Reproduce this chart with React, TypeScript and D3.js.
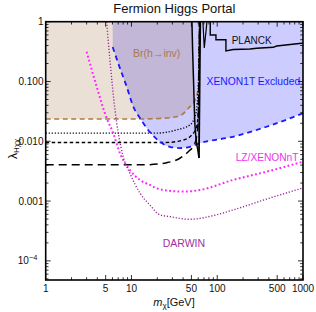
import React from "react";
import * as d3 from "d3";

// ---------- data (m in GeV, lambda) ----------
const xTickValues = [1, 5, 10, 50, 100, 500, 1000];
const xTickLabels = ["1", "5", "10", "50", "100", "500", "1000"];
const yTickValues = [1, 0.1, 0.01, 0.001, 0.0001];
const yTickLabels = ["1", "0.100", "0.010", "0.001", "10^-4"];

// Br(h->inv) current bound (brown dashed)
const brMass = [1, 12.6, 21.4, 33.6, 38.8, 46.4, 55.4, 59.6, 60.7, 61.6, 62.2];
const brLambda = [0.0236, 0.0236, 0.0241, 0.0258, 0.0279, 0.036, 0.0496, 0.073, 0.088, 0.3, 1];

// projected Br(h->inv) bounds (black)
const dotMass = [1, 20, 33.6, 48, 55, 58.5, 61.2, 62.2];
const dotLambda = [0.0137, 0.0137, 0.0155, 0.0188, 0.0258, 0.0437, 0.229, 1];
const sdMass = [1, 25, 40.2, 50.3, 57.5, 60.2, 61.5, 62.2];
const sdLambda = [0.00955, 0.00955, 0.0105, 0.0127, 0.0175, 0.0334, 0.229, 1];
const ldMass = [1, 15, 25.7, 36.7, 45.9, 55, 59.6, 61.5, 62.2];
const ldLambda = [0.00406, 0.00406, 0.00439, 0.0052, 0.0067, 0.0093, 0.0187, 0.229, 1];

// XENON1T excluded (blue dashed)
const xeMass = [6.04, 7.02, 8.79, 10.5, 12.6, 16.4, 21.4, 28, 36.7, 48, 62.9, 152, 376, 1000];
const xeLambda = [0.377, 0.2, 0.082, 0.038, 0.0243, 0.0142, 0.00985, 0.0081, 0.0077, 0.0081, 0.0093, 0.0119, 0.0175, 0.0294];

// LZ / XENONnT (magenta dotted)
const lzMass = [3.0, 3.93, 5.14, 6.14, 7.34, 9.6, 12.6, 16.4, 21.4, 40.2, 62.9, 152, 376, 1000];
const lzLambda = [0.315, 0.082, 0.0243, 0.0136, 0.0063, 0.0033, 0.00225, 0.00186, 0.00157, 0.00144, 0.00153, 0.00225, 0.0031, 0.00456];

// DARWIN (purple dotted)
const dwMass = [5.14, 5.61, 6.43, 7.02, 8.02, 9.6, 12.6, 16.4, 21.4, 28, 48, 98.2, 153, 376, 1000];
const dwLambda = [1, 0.229, 0.0334, 0.0136, 0.0055, 0.0029, 0.00135, 0.00086, 0.00059, 0.00055, 0.000496, 0.00059, 0.00071, 0.00108, 0.00166];

// relic / resonance lines (black solid)
const l1Mass = [50.7, 51.7, 53.1, 54.5, 56.5, 59.6, 61.2];
const l1Lambda = [1, 0.32, 0.0884, 0.0245, 0.01135, 0.00689, 0.00526];
const l2Mass = [63.4, 61.2];
const l2Lambda = [1, 0.00526];
const spikeMass = [68.1, 70.6, 75.9];
const spikeLambda = [1, 0.363, 1];

// PLANCK (black solid)
const planckMass = [82.9, 82.9, 96.6, 96.6, 126.3, 126.3, 153.6, 240.5, 287.9, 449.5, 492.4, 963, 1000];
const planckLambda = [1, 0.599, 0.599, 0.5, 0.5, 0.324, 0.343, 0.349, 0.359, 0.373, 0.392, 0.435, 0.44];

const FONT = "'Liberation Sans', Arial, sans-serif";

type P = [number, number];
const zip = (ms: number[], ls: number[]): P[] => ms.map((m, i) => [m, ls[i]] as P);

export default function App() {
  const W = 316, H = 312;
  const x = d3.scaleLog().domain([1, 1000]).range([45.7, 303]);
  const y = d3.scaleLog().domain([Math.pow(10, -4.32), 1]).range([280, 21.7]);
  const top = y(1);
  const bottom = y.range()[0];
  const left = x.range()[0];
  const right = x.range()[1];

  const lineM = d3.line<P>().x(d => x(d[0])).y(d => y(d[1])).curve(d3.curveMonotoneX);
  const lineL = d3.line<P>().x(d => x(d[0])).y(d => y(d[1]));
  const areaTop = d3.area<P>().x(d => x(d[0])).y0(top).y1(d => y(d[1])).curve(d3.curveMonotoneX);

  const br = zip(brMass, brLambda);
  const l1 = zip(l1Mass, l1Lambda);
  const xe = zip(xeMass, xeLambda);

  const clipL1 = (lineM(l1) || "") + `L${left - 5},${y(l1Lambda[l1Lambda.length - 1])}L${left - 5},${top - 5}Z`;

  const isMajor = (v: number, list: number[]) => list.some(t => Math.abs(Math.log10(v) - Math.log10(t)) < 1e-6);
  const xTicks = x.ticks();
  const yTicks = y.ticks();

  return (
    <svg width={W} height={H} style={{ display: "block", position: "absolute", left: 0, top: 0 }} fontFamily={FONT}>
      <defs>
        <clipPath id="plot">
          <rect x={left} y={top} width={right - left} height={bottom - top} />
        </clipPath>
        <clipPath id="leftOfL1">
          <path d={clipL1} />
        </clipPath>
      </defs>
      <rect x={0} y={0} width={W} height={H} fill="#fff" />
      <text x={(left + right) / 2} y={13} textAnchor="middle" fontSize={13} fill="#111">Fermion Higgs Portal</text>

      <g clipPath="url(#plot)">
        <path d={areaTop(xe) || ""} fill="rgba(0,0,255,0.2)" />
        <g clipPath="url(#leftOfL1)">
          <path d={areaTop(br) || ""} fill="rgba(153,102,51,0.2)" />
        </g>

        <path d={lineM(br) || ""} fill="none" stroke="rgb(176,122,64)" strokeWidth={1.6} strokeDasharray="5,3.5" />
        <path d={lineM(zip(dotMass, dotLambda)) || ""} fill="none" stroke="#000" strokeWidth={1.4} strokeDasharray="1.2,1.8" />
        <path d={lineM(zip(sdMass, sdLambda)) || ""} fill="none" stroke="#000" strokeWidth={1.4} strokeDasharray="3.5,2.5" />
        <path d={lineM(zip(ldMass, ldLambda)) || ""} fill="none" stroke="#000" strokeWidth={1.5} strokeDasharray="8,5" />

        <path d={lineM(xe) || ""} fill="none" stroke="#1a1aff" strokeWidth={1.8} strokeDasharray="5,4" />
        <path d={lineM(zip(lzMass, lzLambda)) || ""} fill="none" stroke="#ff22ff" strokeWidth={2} strokeDasharray="1.8,2.4" />
        <path d={lineM(zip(dwMass, dwLambda)) || ""} fill="none" stroke="#9a2a9a" strokeWidth={1.4} strokeDasharray="1.2,1.8" />

        <path d={lineM(l1) || ""} fill="none" stroke="#000" strokeWidth={1.5} />
        <path d={lineL(zip(l2Mass, l2Lambda)) || ""} fill="none" stroke="#000" strokeWidth={1.8} />
        <path d={lineL(zip(spikeMass, spikeLambda)) || ""} fill="none" stroke="#000" strokeWidth={1.2} />
        <path d={lineL(zip(planckMass, planckLambda)) || ""} fill="none" stroke="#000" strokeWidth={1.4} />
      </g>

      {/* labels */}
      <text x={156.7} y={56.5} textAnchor="middle" fontSize={10.5} fill="#a87850">Br(h→inv)</text>
      <text x={251.7} y={44} textAnchor="middle" fontSize={10} fill="#111">PLANCK</text>
      <text x={253.4} y={85} textAnchor="middle" fontSize={10.3} fill="#1a1aff">XENON1T Excluded</text>
      <text x={298.5} y={160.5} textAnchor="end" fontSize={10.2} fill="#ee33ee">LZ/XENONnT</text>
      <text x={183.9} y={247} textAnchor="middle" fontSize={10.5} fill="#a030a0">DARWIN</text>

      {/* ticks */}
      <g stroke="#000" strokeWidth={0.8}>
        {xTicks.map((t, i) => {
          const L = isMajor(t, xTickValues) ? 5 : 2.8;
          const px = x(t);
          return (
            <g key={"xt" + i}>
              <line x1={px} x2={px} y1={bottom} y2={bottom - L} />
              <line x1={px} x2={px} y1={top} y2={top + L} />
            </g>
          );
        })}
        {yTicks.map((t, i) => {
          const L = isMajor(t, yTickValues) ? 5 : 2.8;
          const py = y(t);
          return (
            <g key={"yt" + i}>
              <line x1={left} x2={left + L} y1={py} y2={py} />
              <line x1={right} x2={right - L} y1={py} y2={py} />
            </g>
          );
        })}
      </g>
      <rect x={left} y={top} width={right - left} height={bottom - top} fill="none" stroke="#000" strokeWidth={1.6} />

      {xTickValues.map((t, i) => (
        <text key={"xl" + i} x={x(t)} y={292} textAnchor="middle" fontSize={10} fill="#111">{xTickLabels[i]}</text>
      ))}
      {yTickValues.map((t, i) => {
        const lab = yTickLabels[i];
        if (lab.includes("^")) {
          const [b, e] = lab.split("^");
          return (
            <text key={"yl" + i} x={37.5} y={y(t) + 3.5} textAnchor="end" fontSize={10} fill="#111">
              {b}
              <tspan fontSize={7.5} dy={-4}>{e.replace("-", "−")}</tspan>
            </text>
          );
        }
        return (
          <text key={"yl" + i} x={43.5} y={y(t) + 3.5} textAnchor="end" fontSize={10} fill="#111">{lab}</text>
        );
      })}

      <text transform={`translate(17,149) rotate(-90)`} textAnchor="middle" fill="#111">
        <tspan fontSize={12}>λ</tspan>
        <tspan fontSize={8} dy={2}>Hχχ</tspan>
      </text>
      <text x={174} y={306} textAnchor="middle" fontSize={11} fill="#111">
        <tspan fontStyle="italic">m</tspan>
        <tspan fontSize={8} dy={2}>χ</tspan>
        <tspan dy={-2}>[GeV]</tspan>
      </text>
    </svg>
  );
}
